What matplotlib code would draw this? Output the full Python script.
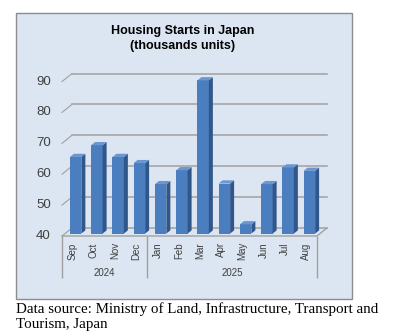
import matplotlib

matplotlib.use("Agg")
import matplotlib.pyplot as plt
from matplotlib.patches import Polygon, Rectangle

# --- Data (thousands of units) ---
months = ["Sep", "Oct", "Nov", "Dec", "Jan", "Feb", "Mar", "Apr", "May", "Jun", "Jul", "Aug"]
years = ["2024", "2025"]
year_sizes = [4, 8]
starts = [64.8, 68.6, 64.8, 62.8, 56.0, 60.5, 89.6, 56.2, 43.0, 56.0, 61.4, 60.3]
y_ticks = [40, 50, 60, 70, 80, 90]

BASE = 40
DX, DY = 0.47, 2.6          # depth of the 3-D box (data units)
BAR_W = 0.54
FRONT, DEPTH = 0.3, 0.4     # bar position / thickness as fraction of box depth

FRONT_C, SIDE_C, TOP_C = "#4a7ebf", "#31568a", "#6b96cf"
GRID_C = "#a0a0a0"
TEXT_C = "#404040"

W, H = 393, 336
fig = plt.figure(figsize=(W / 100, H / 100), dpi=100)

# chart panel
fig.add_artist(Rectangle((16 / W, (H - 299) / H), 336 / W, 286 / H,
                         transform=fig.transFigure, facecolor="#dce6f2",
                         edgecolor="#8c8c8c", lw=1.0, zorder=-5))

fig.text(183 / W, (H - 38.5) / H, "Housing Starts in Japan\n(thousands units)",
         ha="center", va="center", fontsize=9, fontweight="bold",
         family="Liberation Sans", linespacing=1.3)

# plot region: front plane 62..317 px, back plane up to 327 px
ax = fig.add_axes([62 / W, (H - 236) / H, 265 / W, (236 - 73.5) / H])
ax.set_xlim(-0.5, len(months) - 0.5 + DX)
ax.set_ylim(BASE, 90 + DY)
ax.axis("off")

n = len(months)
# back wall gridlines and left wall diagonals
for v in y_ticks:
    ax.plot([-0.5 + DX, n - 0.5 + DX], [v + DY, v + DY], color=GRID_C, lw=1.1,
            clip_on=False, zorder=1)
    ax.plot([-0.5, -0.5 + DX], [v, v + DY], color=GRID_C, lw=0.8,
            clip_on=False, zorder=1)
    ax.annotate(str(v), xy=(-0.5, v), xytext=(-8, 0), textcoords="offset points",
                ha="right", va="center", fontsize=9.5, color=TEXT_C,
                family="Liberation Sans")

# floor edges
ax.plot([-0.5, n - 0.5, n - 0.5 + DX], [BASE, BASE, BASE + DY], color=GRID_C,
        lw=1.0, clip_on=False, zorder=1)

# bars
ox, oy = FRONT * DX, FRONT * DY
ddx, ddy = DEPTH * DX, DEPTH * DY
xs = [i + ox for i in range(n)]
heights = [v - BASE for v in starts]
ax.bar(xs, heights, bottom=BASE + oy, width=BAR_W, color=FRONT_C,
       clip_on=False, zorder=3)
for x, v in zip(xs, starts):
    x0, x1 = x - BAR_W / 2, x + BAR_W / 2
    b, t = BASE + oy, v + oy
    ax.add_patch(Polygon([(x1, b), (x1 + ddx, b + ddy), (x1 + ddx, t + ddy), (x1, t)],
                         closed=True, facecolor=SIDE_C, edgecolor="none",
                         clip_on=False, zorder=3))
    ax.add_patch(Polygon([(x0, t), (x1, t), (x1 + ddx, t + ddy), (x0 + ddx, t + ddy)],
                         closed=True, facecolor=TOP_C, edgecolor="none",
                         clip_on=False, zorder=3))

# multi-level category axis
for i, m in enumerate(months):
    ax.annotate(m, xy=(i, BASE), xytext=(0, -4.5), textcoords="offset points",
                rotation=90, ha="center", va="top", fontsize=7, color=TEXT_C,
                family="Liberation Sans")
bounds = [-0.5]
for s in year_sizes:
    bounds.append(bounds[-1] + s)
y_low = BASE - 42 / 3.086
ax.vlines(bounds, y_low, BASE, color=GRID_C, lw=1.0, clip_on=False)
for yr, a, b in zip(years, bounds[:-1], bounds[1:]):
    ax.annotate(yr, xy=((a + b) / 2, BASE), xytext=(0, -26.5), textcoords="offset points",
                ha="center", va="center", fontsize=7, color=TEXT_C,
                family="Liberation Sans")

fig.text(16 / W, (H - 302) / H,
         "Data source: Ministry of Land, Infrastructure, Transport and\nTourism, Japan",
         ha="left", va="top", fontsize=10.8, family="Liberation Serif",
         linespacing=1.2)

fig.savefig("out.png", dpi=100)
